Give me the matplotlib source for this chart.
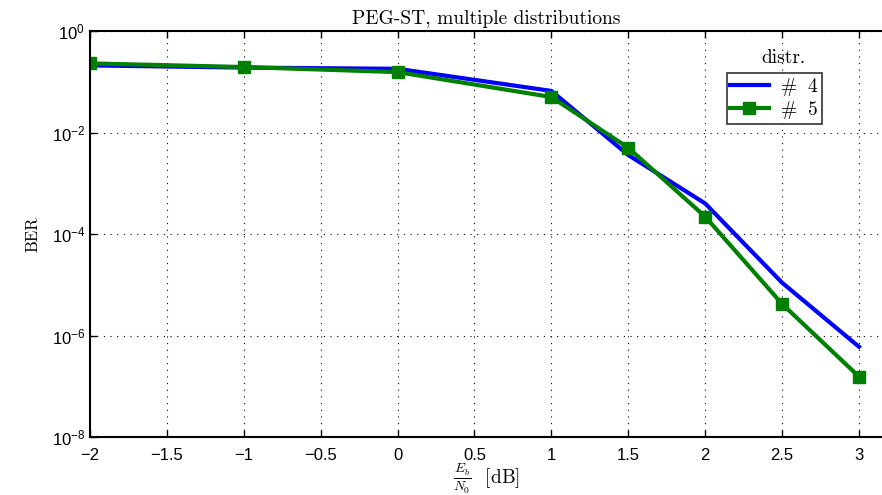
import numpy as np
import matplotlib
matplotlib.use("Agg")
import matplotlib.pyplot as plt

# data
ebn0 = [-2, -1, 0, 1, 1.5, 2, 2.5, 3]
ber_d4 = [0.21, 0.19, 0.18, 0.066, 3.6e-3, 4.0e-4, 1.1e-5, 6.0e-7]
ber_d5 = [0.23, 0.195, 0.155, 0.050, 5.0e-3, 2.2e-4, 4.2e-6, 1.55e-7]
labels = [r'$\#\ \ 4$', r'$\#\ \ 5$']

plt.rcParams['mathtext.fontset'] = 'cm'
plt.rcParams['axes.formatter.use_mathtext'] = True
plt.rcParams['font.family'] = ['Liberation Sans', 'DejaVu Sans']

fig = plt.figure(figsize=(8.82, 4.95), dpi=100)
ax = fig.add_axes([90/882, 1-437/495, 1-90/882, (437-31)/495])

ax.semilogy(ebn0, ber_d4, color=(0, 0, 1), lw=3, label=labels[0])
ax.semilogy(ebn0, ber_d5, color=(0, 0.5, 0), lw=3, marker='s', ms=9,
            label=labels[1])

ax.set_xlim(-2, 3.15)
ax.set_ylim(1e-8, 1)
ax.set_xticks(np.arange(-2, 3.01, 0.5))
ax.set_xticklabels(['\u22122', '\u22121.5', '\u22121', '\u22120.5', '0', '0.5',
                    '1', '1.5', '2', '2.5', '3'])
ax.set_yticks([1e0, 1e-2, 1e-4, 1e-6, 1e-8])
ax.yaxis.set_minor_locator(matplotlib.ticker.NullLocator())
ax.tick_params(direction='in', top=True, labelsize=12, width=1, length=5)
ax.tick_params(axis='x', pad=8)
ax.grid(True, which='major', color='k', linestyle=(0, (1, 5)), lw=0.8)
ax.spines['right'].set_visible(False)
for s in ['left', 'bottom', 'top']:
    ax.spines[s].set_linewidth(1.5)

ax.set_title('PEG-ST, multiple distributions', family='cmr10', fontsize=14,
             pad=5)
ax.set_ylabel('BER', family='cmr10', fontsize=12, labelpad=8)
ax.set_xlabel(r'$\frac{E_b}{N_0}$  [dB]', family='cmr10', fontsize=14,
              va='center')
ax.xaxis.set_label_coords((487-90)/792, -(479-437)/406)

leg = ax.legend(loc='upper left', bbox_to_anchor=((727-90)/792, 1-(73-31)/406),
                fontsize=14, frameon=True, fancybox=False, borderpad=0.15,
                handlelength=2.0, handletextpad=0.6, labelspacing=0.05,
                borderaxespad=0)
leg.get_frame().set_edgecolor('k')
leg.get_frame().set_linewidth(1.2)
ax.text(784, 495-58, 'distr.', transform=None, family='cmr10', fontsize=14,
        ha='center', va='center')

fig.savefig('out.png', dpi=100)
